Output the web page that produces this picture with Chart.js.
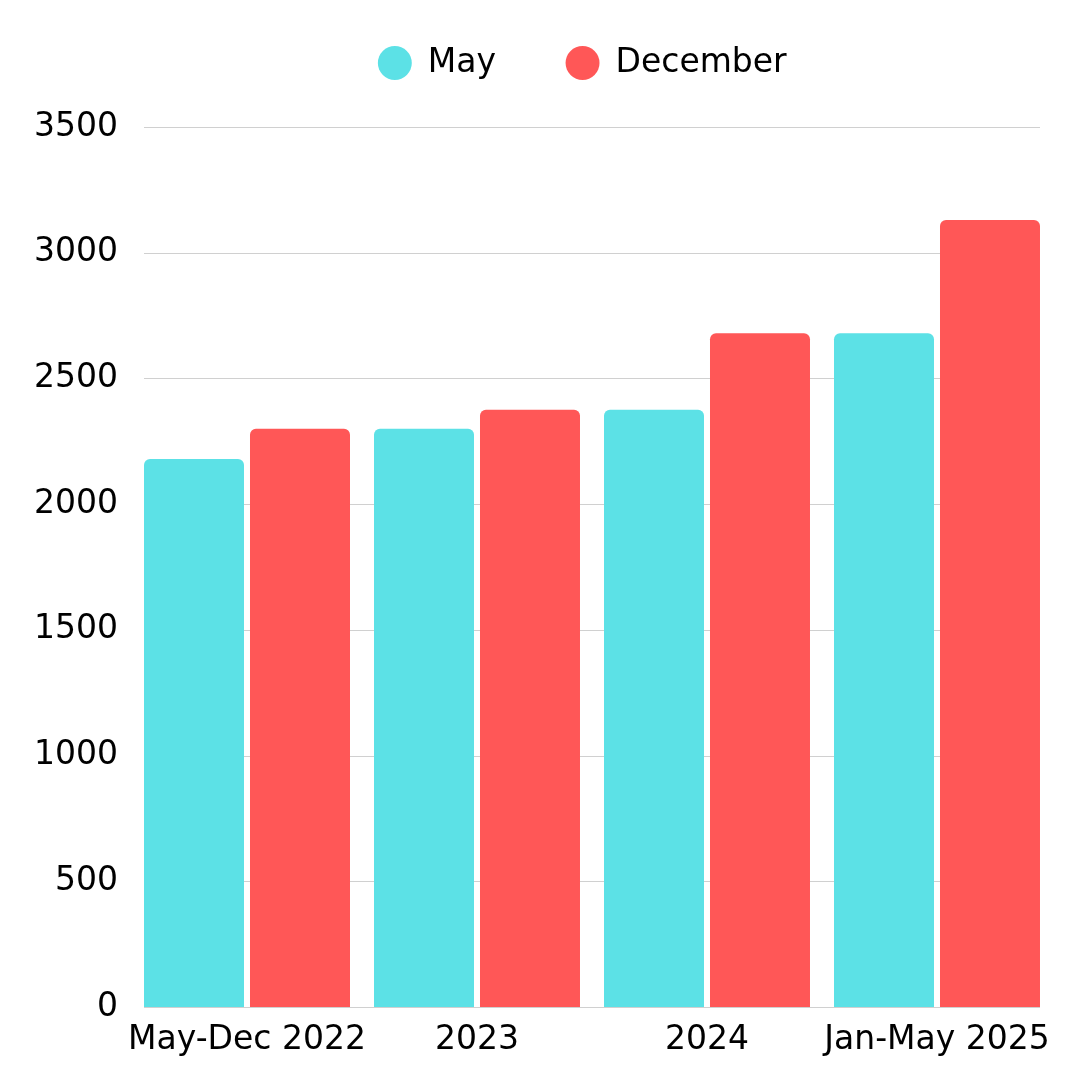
<!DOCTYPE html>
<html>
<head>
<meta charset="utf-8">
<script src="https://cdn.jsdelivr.net/npm/chart.js@4"></script>
<style>
html,body{margin:0;padding:0;background:#ffffff;}
#wrap{width:1080px;height:1080px;}
</style>
</head>
<body>
<div id="wrap"><canvas id="c" width="1080" height="1080"></canvas></div>
<script>
// ---- data ----
const categories = ["May-Dec 2022", "2023", "2024", "Jan-May 2025"];
const seriesNames = ["May", "December"];
const mayValues = [2180, 2300, 2375, 2680];
const decemberValues = [2300, 2375, 2680, 3130];
const yTicks = [0, 500, 1000, 1500, 2000, 2500, 3000, 3500];

const FONT = "'DejaVu Sans', sans-serif";
const CYAN = "#5CE1E6";
const RED = "#FF5757";

// horizontal grid lines spanning from the first bar's left edge to the last bar's right edge
const gridPlugin = {
  id: "spanGrid",
  beforeDatasetsDraw(chart) {
    const y = chart.scales.y;
    const m0 = chart.getDatasetMeta(0).data;
    const m1 = chart.getDatasetMeta(1).data;
    if (!m0.length || !m1.length) return;
    const left = m0[0].x - m0[0].width / 2;
    const last = m1[m1.length - 1];
    const right = last.x + last.width / 2;
    const ctx = chart.ctx;
    ctx.save();
    ctx.strokeStyle = "#d0d0d0";
    ctx.lineWidth = 1;
    y.ticks.forEach(t => {
      const py = Math.round(y.getPixelForValue(t.value)) + 0.5;
      ctx.beginPath();
      ctx.moveTo(left, py);
      ctx.lineTo(right, py);
      ctx.stroke();
    });
    ctx.restore();
  }
};

const legendShift = {
  id: "legendShift",
  afterLayout(chart) {
    if (chart.legend) {
      chart.legend.left -= 9.5;
      chart.legend.right -= 9.5;
    }
  }
};

new Chart(document.getElementById("c"), {
  type: "bar",
  data: {
    labels: categories,
    datasets: [
      { label: seriesNames[0], data: mayValues, backgroundColor: CYAN, borderRadius: 6, borderSkipped: "start",
        categoryPercentage: 0.9217, barPercentage: 0.9434 },
      { label: seriesNames[1], data: decemberValues, backgroundColor: RED, borderRadius: 6, borderSkipped: "start",
        categoryPercentage: 0.9217, barPercentage: 0.9434 }
    ]
  },
  options: {
    responsive: false,
    animation: false,
    devicePixelRatio: 1,
    layout: { padding: { top: -23.5, left: 0, right: 28, bottom: 5.4 } },
    plugins: {
      legend: {
        display: true,
        position: "top",
        fullSize: false,
        labels: {
          usePointStyle: true,
          pointStyle: "circle",
          boxWidth: 33,
          boxHeight: 24,
          padding: 70,
          color: "#000000",
          font: { family: FONT, size: 33 }
        }
      },
      subtitle: {
        display: true,
        text: "",
        position: "top",
        weight: 500,
        padding: { top: 25.5, bottom: 0 },
        font: { family: FONT, size: 10, lineHeight: 1.2 }
      },
      tooltip: { enabled: false }
    },
    scales: {
      x: {
        grid: { display: false, drawTicks: false },
        border: { display: false },
        ticks: { color: "#000000", font: { family: FONT, size: 33 }, padding: 14, maxRotation: 0, autoSkip: false }
      },
      y: {
        min: 0,
        max: 3500,
        afterFit(scale) { scale.width = 132; },
        afterBuildTicks(scale) { scale.ticks = yTicks.map(v => ({ value: v })); },
        grid: { display: false, drawTicks: false },
        border: { display: false },
        ticks: { color: "#000000", font: { family: FONT, size: 33 }, padding: 14, stepSize: 500,
                 callback: (v) => String(v) }
      }
    }
  },
  plugins: [gridPlugin, legendShift]
});
</script>
</body>
</html>
